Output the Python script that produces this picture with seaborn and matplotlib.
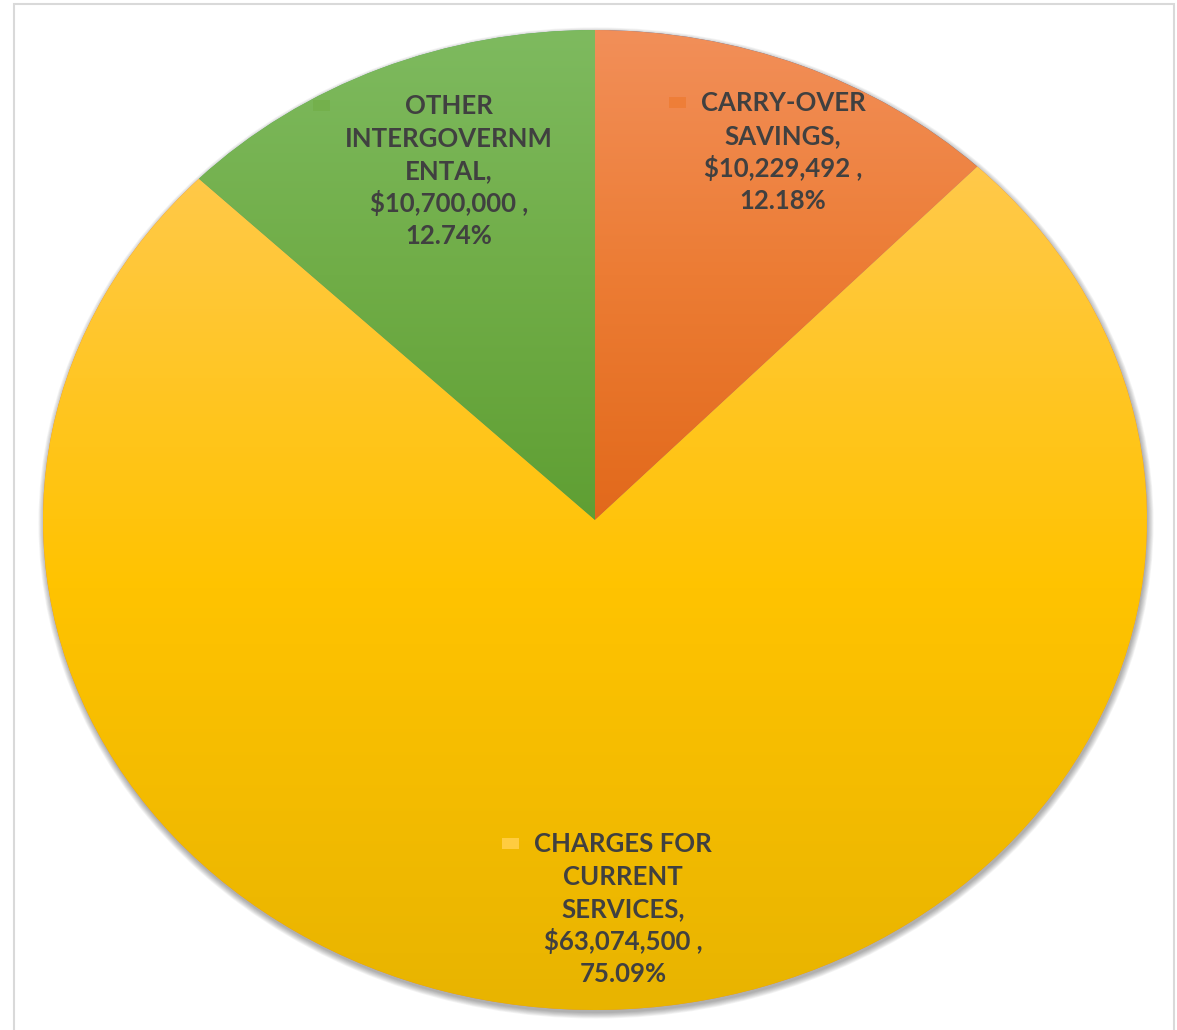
import numpy as np
import matplotlib
matplotlib.use("Agg")
import matplotlib.pyplot as plt
import seaborn as sns
from matplotlib.patches import Ellipse, Rectangle
from matplotlib.colors import LinearSegmentedColormap

# ---------------- data ----------------
categories = ["CARRY-OVER SAVINGS", "CHARGES FOR CURRENT SERVICES", "OTHER INTERGOVERNMENTAL"]
values = [10229492, 63074500, 10700000]
label_lines = [
    ["CARRY-OVER", "SAVINGS,"],
    ["CHARGES FOR", "CURRENT", "SERVICES,"],
    ["OTHER", "INTERGOVERNM", "ENTAL,"],
]
# gradient colours per slice (top, middle, bottom)
slice_grads = [
    ["#F28F59", "#EC7C34", "#E2691B"],
    ["#FFC94A", "#FFC300", "#E8B400"],
    ["#7EBA5F", "#70AD47", "#5F9F33"],
]
key_colors = ["#EE7E38", "#FFCC40", "#74B04C"]

# ---------------- layout ----------------
W, H, DPI = 1177, 1030, 100
CX, CY = 595, 520          # pie centre in pixels (from top)
RX, RY = 552, 490          # pie radii in pixels

sns.set_theme(style="white")
plt.rcParams["font.family"] = ["Lato", "DejaVu Sans"]

fig = plt.figure(figsize=(W / DPI, H / DPI), dpi=DPI)
ax = fig.add_axes([0, 0, 1, 1])
ax.set_axis_off()

total = sum(values)
wedges, _ = ax.pie(values, startangle=90, counterclock=False, radius=1,
                   wedgeprops=dict(linewidth=0, edgecolor="none"))
ax.set_aspect("auto")
xlim = (-CX / RX, (W - CX) / RX)
ylim = (-(H - CY) / RY, CY / RY)

# soft shadow
for k in range(8):
    ex = k * 0.8
    sh = Ellipse((1.0 / RX, -3.0 / RY), 2 * (RX + ex) / RX, 2 * (RY + ex) / RY,
                 facecolor="#000000", alpha=0.045, linewidth=0, zorder=0.5)
    ax.add_patch(sh)

# gradient fills clipped to wedges
for w, grad in zip(wedges, slice_grads):
    t1, t2 = w.theta1, w.theta2
    ang = np.deg2rad(np.linspace(t1, t2, 400))
    ys = np.concatenate([np.sin(ang), [0.0]])
    xs = np.concatenate([np.cos(ang), [0.0]])
    top, bot = ys.max(), ys.min()
    cmap = LinearSegmentedColormap.from_list("g", grad)
    img = np.linspace(0, 1, 256).reshape(-1, 1)
    im = ax.imshow(img, cmap=cmap, extent=[xs.min(), xs.max(), bot, top],
                   origin="upper", aspect="auto", zorder=2, interpolation="bicubic")
    w.set_zorder(1)
    im.set_clip_path(w)

ax.set_xlim(*xlim)
ax.set_ylim(*ylim)

# labels
label_centers_px = [(783, 152), (623, 909), (449, 171)]
line_gap = 32.4
fs = 18.5
text_color = "#404040"
all_lines = []
for i, (lines, v) in enumerate(zip(label_lines, values)):
    full = lines + ["${:,} ,".format(v), "{:.2f}%".format(100 * v / total)]
    cx, cy = label_centers_px[i]
    n = len(full)
    objs = []
    for j, s in enumerate(full):
        py = cy + (j - (n - 1) / 2) * line_gap
        dx = (cx - CX) / RX
        dy = (CY - py) / RY
        t = ax.text(dx, dy, s, ha="center", va="center", fontsize=fs,
                    fontweight="bold", color=text_color, zorder=5)
        objs.append((t, py))
    all_lines.append(objs)

fig.canvas.draw()
renderer = fig.canvas.get_renderer()
for i, objs in enumerate(all_lines):
    left_px = min(t.get_window_extent(renderer).x0 for t, _ in objs)
    first_py = objs[0][1]
    kw, kh = 17, 11
    x1 = left_px - 15
    x0 = x1 - kw
    dx0 = (x0 - CX) / RX
    dy0 = (CY - (first_py + kh / 2 - 1)) / RY
    ax.add_patch(Rectangle((dx0, dy0), kw / RX, kh / RY, facecolor=key_colors[i],
                           edgecolor="none", zorder=5))

# outer frame
fig.add_artist(Rectangle((14 / W, -0.02), 1160 / W, (H - 4) / H + 0.02,
                         transform=fig.transFigure, facecolor="none",
                         edgecolor="#D9D9D9", linewidth=1.5))

fig.savefig("out.png", dpi=DPI)
